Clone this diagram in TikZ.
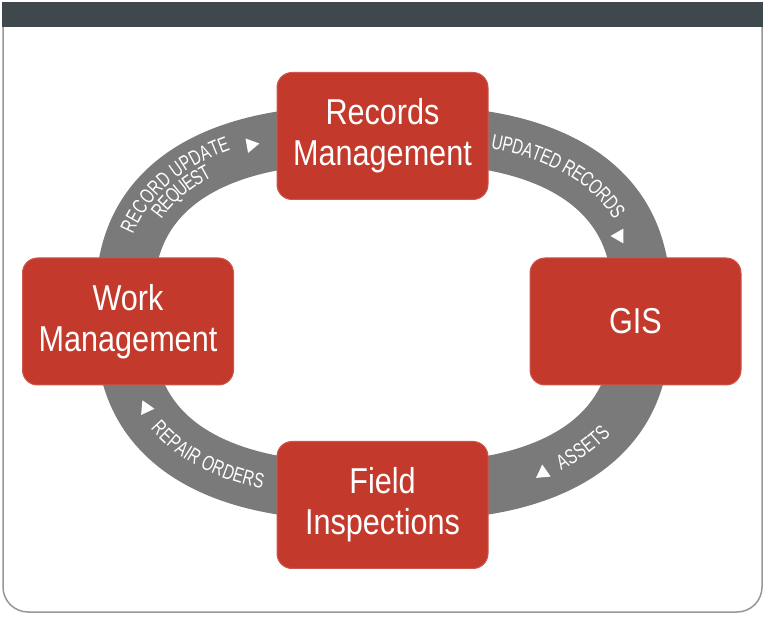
\documentclass[tikz,border=0pt]{standalone}
\usepackage{fontspec}
\setmainfont{Liberation Sans}[FakeStretch=0.85]
\newfontfamily\lblfam{Liberation Sans}[FakeStretch=0.72]
\usetikzlibrary{shapes.geometric,decorations.text}

\definecolor{boxred}{RGB}{195,57,44}
\definecolor{ringgray}{RGB}{122,122,122}
\definecolor{bardark}{RGB}{62,72,77}
\definecolor{framegray}{RGB}{150,150,150}
\newcommand{\lblfont}{\lblfam\fontsize{21}{21}\selectfont}
% centre line of the ring (a rounded ellipse)
\newcommand{\ringx}[1]{259*sign(cos(#1))*abs(cos(#1))^0.77}
\newcommand{\ringy}[1]{179*sign(sin(#1))*abs(sin(#1))^0.77}

\begin{document}
\begin{tikzpicture}[x=1pt,y=1pt,
    box/.style={rectangle,rounded corners=15pt,fill=boxred,draw=boxred!85!white,line width=1pt,
        text=white,align=center,minimum width=211pt,minimum height=127pt,
        font=\fontsize{36}{41}\selectfont},
    tri/.style={regular polygon,regular polygon sides=3,fill=white,inner sep=0pt,minimum size=17pt},
    ringlabel/.style={decorate,decoration={text along path,text color=white,text align=center,
        text={|\lblfont|#1}}}]
\useasboundingbox (0,0) rectangle (768,621);
\fill[white] (0,0) rectangle (768,621);

    % frame and top bar
    \draw[framegray, line width=1.5pt, rounded corners=25pt] (3,618) -- (3,9) -- (762,9) -- (762,618);
    \fill[bardark] (2,594) rectangle (763,619);

    % the ring
    \coordinate (c) at (383,308);
\begin{scope}[shift={(c)}]
    \draw[ringgray, line width=58pt] plot[domain=1:361, samples=181, smooth cycle] ({\ringx{\x}},{\ringy{\x}});

    \path [ringlabel={RECORD UPDATE}, decoration={raise=3pt}]
        plot[domain=179:103, samples=77] ({\ringx{\x}},{\ringy{\x}});
    \path [ringlabel={REQUEST}, decoration={raise=-15pt}]
        plot[domain=179:103, samples=77] ({\ringx{\x}},{\ringy{\x}});
    \path [ringlabel={UPDATED RECORDS}, decoration={raise=-7pt}]
        plot[domain=83:9, samples=75] ({\ringx{\x}},{\ringy{\x}});
    \path [ringlabel={ASSETS}, decoration={raise=-7pt}]
        plot[domain=-62:-24, samples=39] ({\ringx{\x}},{\ringy{\x}});
    \path [ringlabel={REPAIR ORDERS}, decoration={raise=-7pt}]
        plot[domain=194:261, samples=68] ({\ringx{\x}},{\ringy{\x}});
\end{scope}

\begin{scope}[every node/.style={tri}]
    \node[rotate=-80] (t1) at (251,476){};
    \node[rotate=-150] (t2) at (619,385){};
    \node[rotate=125] (t3) at (543,148){};
    \node[rotate=-95] (t4) at (146,213){};
\end{scope}

\begin{scope}[every node/.style={box}]
    \node (rec) at (382.5,485){Records\\Management};
    \node (work) at (128,299.5){Work\\Management};
    \node (gis) at (635.5,299.5){GIS};
    \node (field) at (382.5,116){Field\\Inspections};
\end{scope}

\end{tikzpicture}
\end{document}
